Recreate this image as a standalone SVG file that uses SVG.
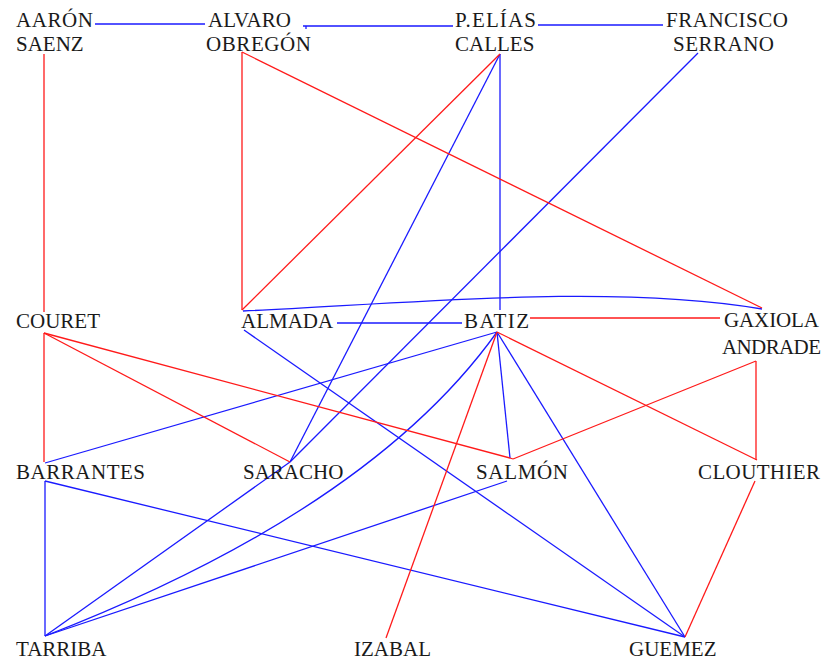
<svg xmlns="http://www.w3.org/2000/svg" width="827" height="665" viewBox="0 0 827 665">
<style>
text{font-family:"Liberation Serif","Times New Roman",serif;font-size:21px;fill:#1a1a1a}
.b{stroke:#1a1aff;stroke-width:1.3;fill:none}
.r{stroke:#ff1a1a;stroke-width:1.3;fill:none}
</style>
<rect width="827" height="665" fill="#fff"/>
<g id="connectors">
<path class="b" d="M95,24H205"/>
<path class="b" d="M303,26H453M306,26V29"/>
<path class="b" d="M538,25H663"/>
<path class="b" d="M500,54V310"/>
<path class="b" d="M500,54L290,462"/>
<path class="b" d="M698,53L290,462"/>
<path class="b" d="M243,311C400,304 610,283 762,309"/>
<path class="b" d="M337,323H462"/>
<path class="b" d="M244,330L685,637"/>
<path class="b" d="M497,332L45,463"/>
<path class="b" d="M497,332Q370,510 45,636"/>
<path class="b" d="M497,332L510,458"/>
<path class="b" d="M497,332L685,637"/>
<path class="b" d="M45,481V636"/>
<path class="b" d="M45,481L685,637"/>
<path class="b" d="M45,636L290,462"/>
<path class="b" d="M45,636L507,481"/>
<path class="r" d="M44,54V312"/>
<path class="r" d="M242,52V310"/>
<path class="r" d="M242,52L762,308"/>
<path class="r" d="M500,54L242,310"/>
<path class="r" d="M530,318H720"/>
<path class="r" d="M44,333V462"/>
<path class="r" d="M44,333L290,462"/>
<path class="r" d="M44,333L510,458L513,459"/>
<path class="r" d="M497,332L386,638"/>
<path class="r" d="M497,332L757,460"/>
<path class="r" d="M513,459L756,361"/>
<path class="r" d="M756,361V460"/>
<path class="r" d="M755,481L685,637"/>
</g>
<g id="aaron-saenz"><text x="16" y="27" textLength="77">AARÓN</text><text x="16" y="51">SAENZ</text></g>
<g id="alvaro-obregon"><text x="208" y="27">ALVARO</text><text x="206" y="51" textLength="105">OBREGÓN</text></g>
<g id="pelias-calles"><text x="455" y="27" textLength="81">P.ELÍAS</text><text x="455" y="51">CALLES</text></g>
<g id="francisco-serrano"><text x="666" y="27" textLength="122">FRANCISCO</text><text x="673" y="51" textLength="101">SERRANO</text></g>
<g id="couret"><text x="16" y="328">COURET</text></g>
<g id="almada"><text x="241" y="328">ALMADA</text></g>
<g id="batiz"><text x="464" y="328" textLength="65">BATIZ</text></g>
<g id="gaxiola-andrade"><text x="724" y="327" textLength="95">GAXIOLA</text><text x="722" y="354" textLength="99">ANDRADE</text></g>
<g id="barrantes"><text x="16" y="479" textLength="129">BARRANTES</text></g>
<g id="saracho"><text x="243" y="479">SARACHO</text></g>
<g id="salmon"><text x="476" y="479" textLength="92">SALMÓN</text></g>
<g id="clouthier"><text x="698" y="479" textLength="122">CLOUTHIER</text></g>
<g id="tarriba"><text x="16" y="656">TARRIBA</text></g>
<g id="izabal"><text x="354" y="656">IZABAL</text></g>
<g id="guemez"><text x="629" y="656">GUEMEZ</text></g>
</svg>
